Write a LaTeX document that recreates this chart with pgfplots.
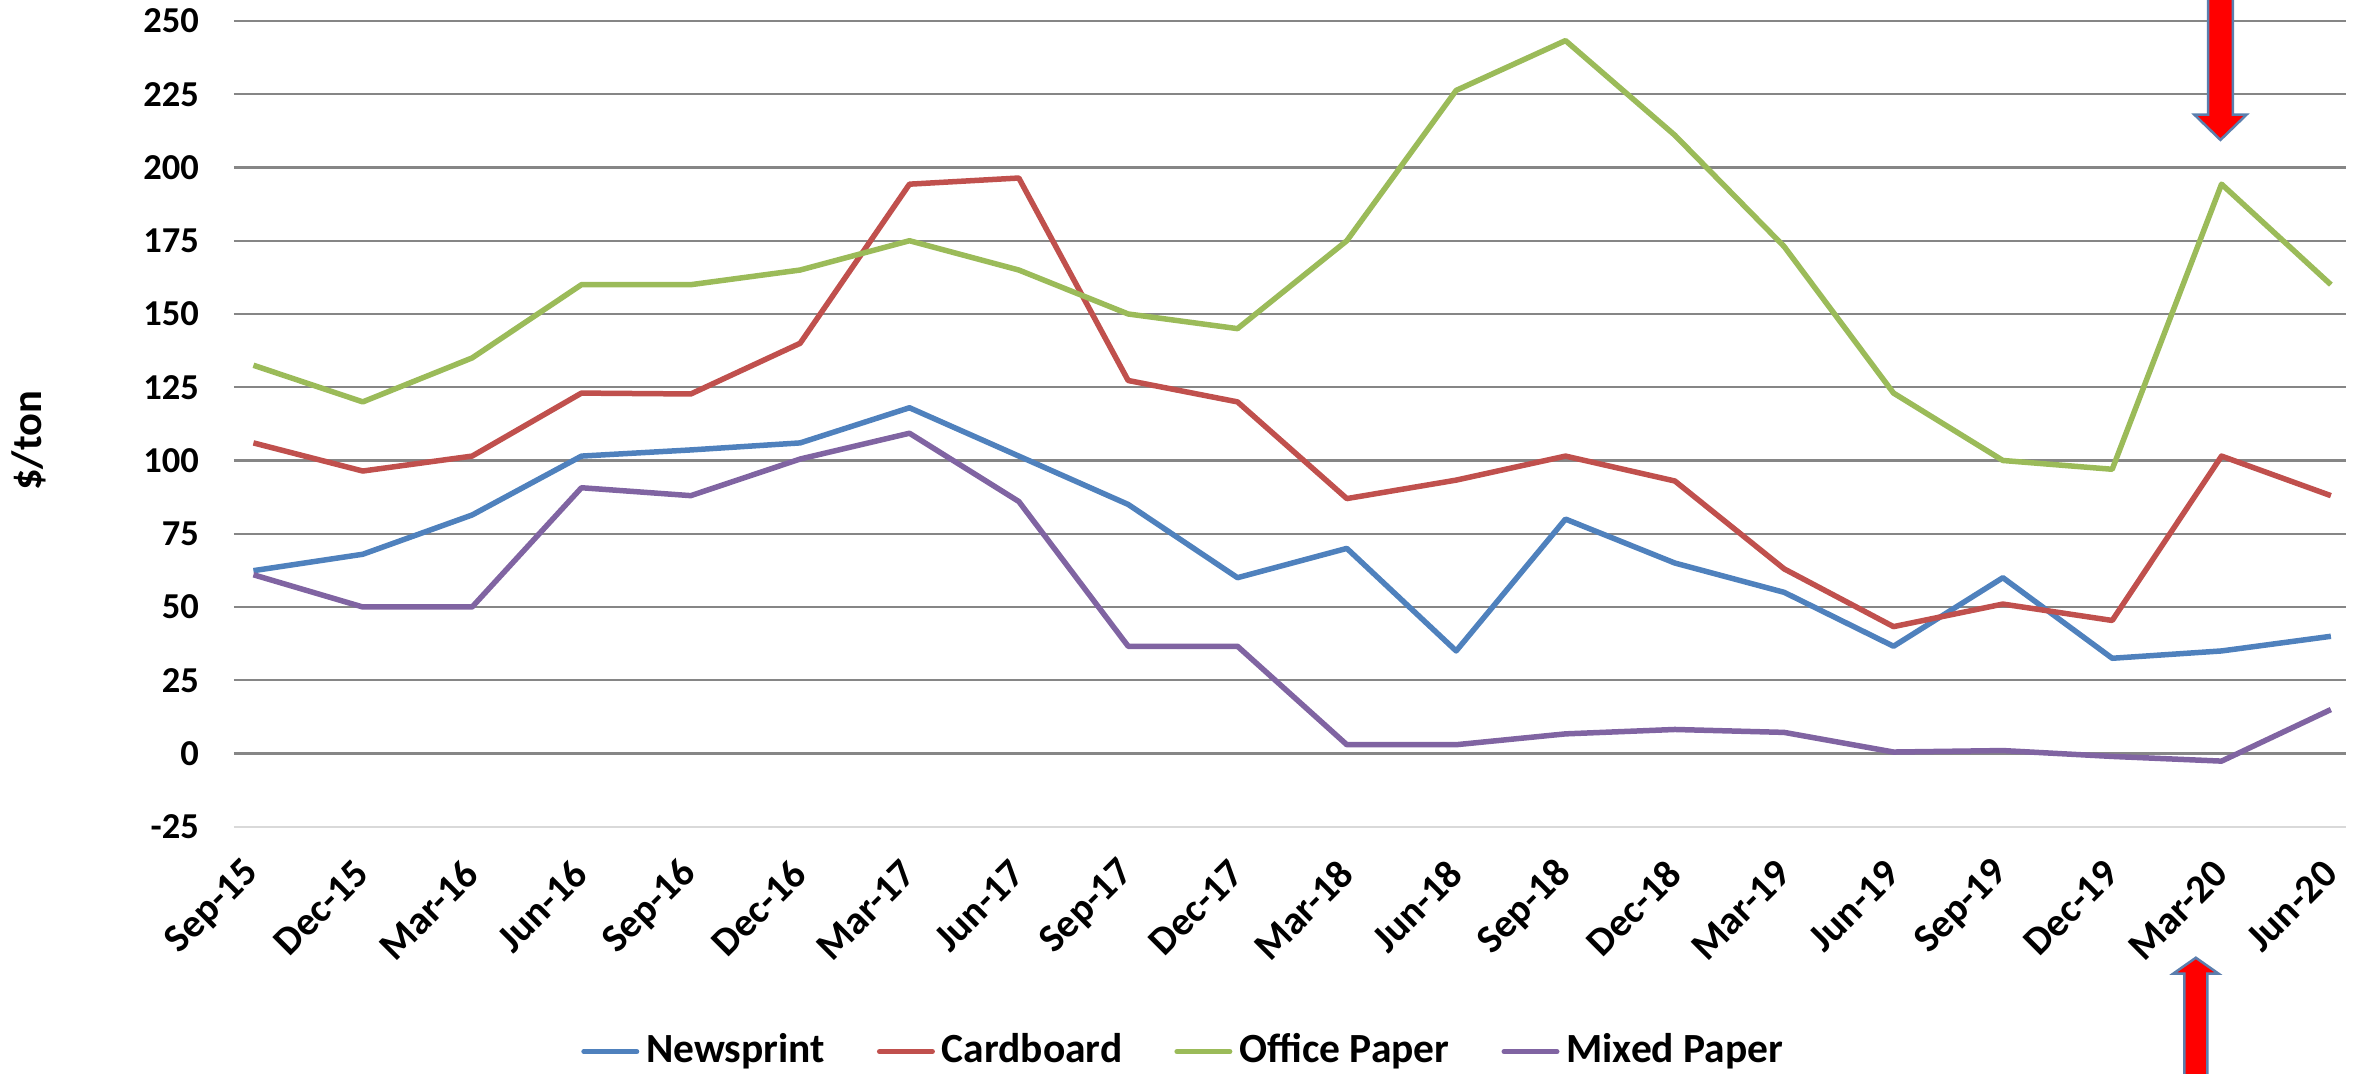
\documentclass[border=0pt]{standalone}
\usepackage{fontspec}
\setmainfont{Carlito}
\usepackage{pgfplots}
\usepackage{pgfplotstable}
\pgfplotsset{compat=1.18}
\definecolor{cNews}{HTML}{4F81BD}
\definecolor{cCard}{HTML}{C0504D}
\definecolor{cOffice}{HTML}{9BBB59}
\definecolor{cMixed}{HTML}{8064A2}
\definecolor{cGrid}{HTML}{868686}
\definecolor{cAxis}{HTML}{D9D9D9}
\definecolor{cBorder}{HTML}{5B7FAE}

\pgfplotstableread{
x news card office mixed
0  62.4 106.0 132.5 61.0
1  68.0  96.4 120.0 50.0
2  81.4 101.5 135.0 50.0
3 101.5 123.0 160.0 90.7
4 103.6 122.7 160.0 88.0
5 106.0 140.0 165.0 100.5
6 118.0 194.3 175.0 109.3
7 101.5 196.4 165.0 86.0
8  85.0 127.3 150.0 36.6
9  60.0 120.0 145.0 36.6
10 70.0  87.0 175.0  3.0
11 35.0  93.3 226.3  3.0
12 80.0 101.5 243.3  6.7
13 65.0  93.0 211.0  8.2
14 55.0  63.0 173.0  7.2
15 36.6  43.3 123.0  0.5
16 60.0  51.0 100.0  1.0
17 32.5  45.4  97.0 -1.0
18 35.0 101.5 194.3 -2.6
19 40.0  88.0 160.0 15.0
}\datatable

\begin{document}
\begin{tikzpicture}
\begin{axis}[
  scale only axis,
  width=422.6pt, height=161.2pt,
  xmin=-0.18, xmax=19.14,
  ymin=-25, ymax=250,
  clip=false,
  axis line style={draw=none},
  major tick length=0pt,
  ytick={0,25,...,250},
  yticklabels={0,25,50,75,100,125,150,175,200,225,250},
  extra y ticks={-25},
  extra y tick labels={-25},
  extra y tick style={grid=major, major grid style={color=cAxis, line width=0.5pt}},
  ymajorgrids,
  major grid style={color=cGrid, line width=0.45pt},
  yticklabel style={font=\fontsize{7.3}{8}\selectfont\bfseries, anchor=east, inner sep=0pt, xshift=-6.8pt},
  xtick={0,...,19},
  xticklabels={Sep-15,Dec-15,Mar-16,Jun-16,Sep-16,Dec-16,Mar-17,Jun-17,Sep-17,Dec-17,Mar-18,Jun-18,Sep-18,Dec-18,Mar-19,Jun-19,Sep-19,Dec-19,Mar-20,Jun-20},
  xticklabel style={font=\fontsize{8}{9}\selectfont\bfseries, rotate=45, anchor=east, inner sep=0pt},
  xticklabel shift=8pt,
  ylabel={\$/ton},
  ylabel style={at={(axis description cs:-0.097,0.479)}, anchor=center, font=\fontsize{8.5}{10}\selectfont\bfseries},
  legend columns=4,
  legend style={at={(0.449,-0.279)}, anchor=center, draw=none, fill=none,
    font=\fontsize{8.3}{10}\selectfont\bfseries,
    nodes={inner sep=0pt},
    /tikz/every odd column/.append style={column sep=1.4pt},
    /tikz/every even column/.append style={column sep=10.4pt}},
  legend image code/.code={\draw[#1, line width=1pt, line cap=round] (0pt,0pt) -- (10.6pt,0pt);},
  every axis plot/.append style={line width=1.1pt, mark=none, line join=round},
]
\addplot[cNews] table[x=x, y=news] {\datatable};
\addlegendentry{Newsprint}
\addplot[cCard] table[x=x, y=card] {\datatable};
\addlegendentry{Cardboard}
\addplot[cOffice] table[x=x, y=office] {\datatable};
\addlegendentry{Office Paper}
\addplot[cMixed] table[x=x, y=mixed] {\datatable};
\addlegendentry{Mixed Paper}

% annotation arrows
\draw[fill=red, draw=cBorder, line width=0.5pt, line join=miter]
  (axis cs:17.876,262) -- (axis cs:17.876,218) -- (axis cs:17.752,218) -- (axis cs:17.99,209.4)
  -- (axis cs:18.228,218) -- (axis cs:18.104,218) -- (axis cs:18.104,262) -- cycle;
\draw[fill=red, draw=cBorder, line width=0.5pt, line join=miter]
  (axis cs:17.66,-115) -- (axis cs:17.66,-75.1) -- (axis cs:17.559,-75.1) -- (axis cs:17.765,-69.7)
  -- (axis cs:17.971,-75.1) -- (axis cs:17.87,-75.1) -- (axis cs:17.87,-115) -- cycle;

\coordinate (bbl) at (axis cs:-2.318,-109.27);
\coordinate (btr) at (axis cs:19.321,257.16);
\end{axis}
\pgfresetboundingbox
\useasboundingbox (bbl) rectangle (btr);
\end{tikzpicture}
\end{document}
